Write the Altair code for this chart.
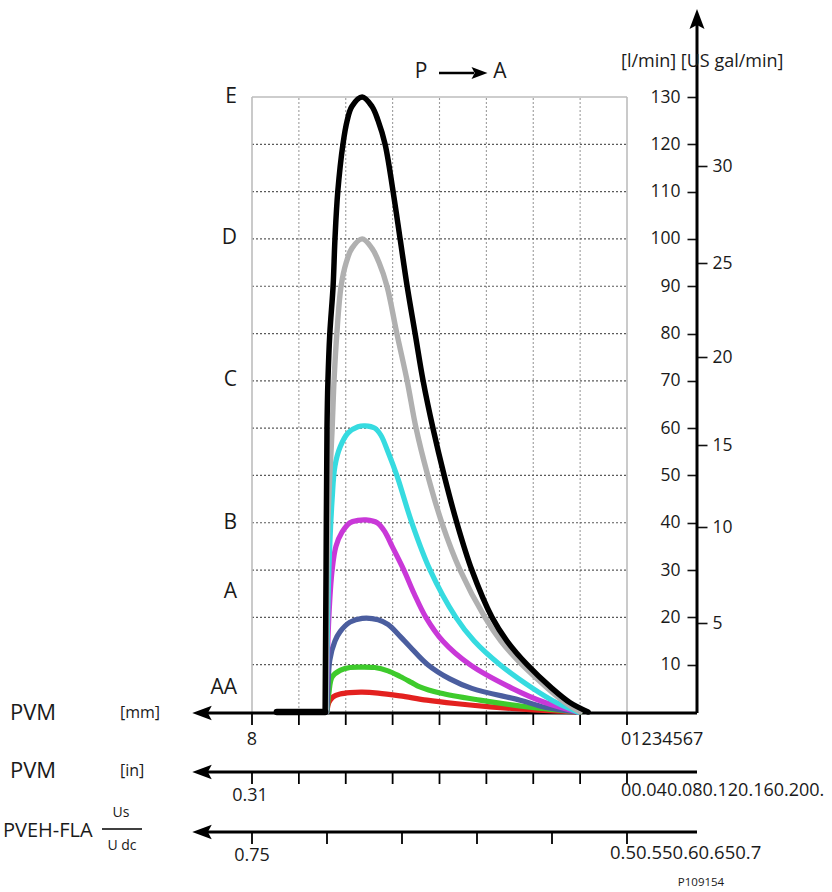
import altair as alt
import pandas as pd

FONT = "Open Sans"
INK = "#1a1a1a"

# ---------------- flow curves: spool travel [mm] -> flow [l/min] ----------------
e_mm = [6.44, 6.42, 6.40, 6.38, 6.34, 6.27, 6.23, 6.17, 6.06, 5.97, 5.87, 5.65, 5.44, 5.31,
        5.16, 4.99, 4.84, 4.69, 4.52, 4.35, 4.14, 3.90, 3.63, 3.31, 2.88, 2.56, 2.13, 1.60,
        1.22, 0.83]
e_flow = [0, 30, 60, 70, 80, 90, 100, 110, 120, 125, 128, 130, 128, 125,
          120, 110, 100, 90, 80, 70, 60, 50, 40, 30, 20, 15, 10, 5,
          2, 0]
e_dead_mm = [7.47, 6.44]
e_dead_flow = [0, 0]

d_mm = [6.42, 6.38, 6.29, 6.25, 6.19, 6.10, 5.99, 5.87, 5.65, 5.44, 5.29, 5.12, 4.91,
        4.69, 4.50, 4.25, 3.95, 3.56, 3.03, 2.69, 2.24, 1.69, 1.32, 1.00]
d_flow = [0, 40, 60, 70, 80, 90, 95, 98, 100, 98, 95, 90, 80,
          70, 60, 50, 40, 30, 20, 15, 10, 5, 2, 0]

c_mm = [6.42, 6.36, 6.29, 6.23, 6.12, 5.95, 5.74, 5.59, 5.38, 5.25, 5.10, 4.91, 4.59,
        4.20, 3.65, 3.26, 2.71, 2.01, 1.51, 1.05]
c_flow = [0, 30, 45, 52, 56, 59, 60.3, 60.5, 60, 58.5, 55, 50, 40,
          30, 20, 15, 10, 5, 2, 0]

b_mm = [6.42, 6.36, 6.29, 6.21, 6.08, 5.91, 5.74, 5.57, 5.33, 5.16, 5.01, 4.76, 4.54,
        4.29, 3.93, 3.35, 2.45, 1.75, 1.05]
b_flow = [0, 20, 30, 35, 38, 40, 40.5, 40.6, 40, 38, 35, 30, 25,
          20, 15, 10, 5, 2, 0]

a_mm = [6.40, 6.38, 6.34, 6.23, 6.12, 5.91, 5.65, 5.31, 5.10, 4.84, 4.63, 4.25, 3.78,
        3.31, 2.28, 1.75, 1.05]
a_flow = [0, 5, 11, 15, 17, 19, 19.8, 19.5, 18.5, 16, 13.8, 10, 7,
          5, 2.5, 1, 0]

aa_mm = [6.40, 6.36, 6.29, 6.12, 5.91, 5.70, 5.38, 5.10, 4.84, 4.59, 4.42, 3.99, 3.14,
         2.07, 1.00]
aa_flow = [0, 4, 7.4, 8.8, 9.4, 9.5, 9.4, 8.7, 7.5, 6.2, 5.3, 4, 2.5,
           1, 0]

low_mm = [6.40, 6.36, 6.27, 6.12, 5.91, 5.65, 5.31, 4.84, 4.27, 3.67, 2.92, 2.07, 1.43, 1.05]
low_flow = [0, 2, 3.2, 3.8, 4.1, 4.2, 4.0, 3.4, 2.5, 1.8, 1.1, 0.5, 0.2, 0]

# ---------------- scales, ticks and labels ----------------
grid_mm = [1, 2, 3, 4, 5, 6, 7]
grid_flow = [10, 20, 30, 40, 50, 60, 70, 80, 90, 100, 110, 120]
lpm_ticks = [10, 20, 30, 40, 50, 60, 70, 80, 90, 100, 110, 120, 130]
gal_ticks_lpm = [18.8, 39.1, 56.4, 75.0, 94.9, 115.4]   # 5 ... 30 US gal/min
stroke_ticks_mm = [0, 1, 2, 3, 4, 5, 6, 7, 8]
ratio_ticks = [0.75, 0.70, 0.65, 0.60, 0.55, 0.50]

mm_labels = ["0", "1", "2", "3", "4", "5", "6", "7"]
in_labels = ["0", "0.04", "0.08", "0.12", "0.16", "0.20", "0."]
ratio_labels = ["0.5", "0.55", "0.6", "0.65", "0.7"]
curve_labels = ["E", "D", "C", "B", "A", "AA"]

X0, Y0 = 252, 97          # top-left corner of the grid on the page
W, H = 375, 615           # grid size in pixels

xscale = alt.Scale(domain=[0, 8], reverse=True, nice=False, zero=False)
yscale = alt.Scale(domain=[0, 130], nice=False, zero=False)


def X(field):
    return alt.X(field, type="quantitative", scale=xscale, axis=None)


def Y(field, axis=None):
    return alt.Y(field, type="quantitative", scale=yscale, axis=axis)


def px(x):
    return x - X0


def py(y):
    return y - Y0


def one():
    return pd.DataFrame({"k": [0]})


def text(s, x, y, size, align="center", color=INK):
    return alt.Chart(pd.DataFrame({"s": [s]})).mark_text(
        align=align, baseline="middle", fontSize=size, color=color, font=FONT
    ).encode(x=alt.value(px(x)), y=alt.value(py(y)), text="s:N")


def prule(x1, y1, x2, y2, width=3.0, color="black"):
    return alt.Chart(one()).mark_rule(strokeWidth=width, color=color).encode(
        x=alt.value(px(x1)), x2=alt.value(px(x2)),
        y=alt.value(py(y1)), y2=alt.value(py(y2)))


def head(shape, x, y, size):
    return alt.Chart(one()).mark_point(
        shape=shape, filled=True, size=size, color="black", opacity=1, strokeWidth=0
    ).encode(x=alt.value(px(x)), y=alt.value(py(y)))


LEFT_HEAD = "M-1,0L1,-0.75L0.6,0L1,0.75Z"
UP_HEAD = "M0,-1L0.75,1L0,0.6L-0.75,1Z"
RIGHT_HEAD = "M1,0L-1,-0.75L-0.6,0L-1,0.75Z"

layers = []

# ---- grid ----
layers.append(
    alt.Chart(pd.DataFrame({"mm": grid_mm, "lo": 0, "hi": 130}))
    .mark_rule(color="#9c9c9c", strokeDash=[2, 2], strokeWidth=1.1)
    .encode(x=X("mm"), y=Y("lo"), y2="hi")
)
lpm_axis = alt.Axis(
    orient="left", offset=-(W + 70), values=lpm_ticks, title=None, domain=False,
    grid=False, tickSize=10, tickWidth=1.6, tickColor="#111", labelPadding=7,
    labelFont=FONT, labelFontSize=17.5, labelColor=INK,
)
layers.append(
    alt.Chart(pd.DataFrame({"flow": grid_flow, "x0": 8, "x1": 0}))
    .mark_rule(color="#5a5a5a", strokeDash=[2, 2], strokeWidth=1.2)
    .encode(x=X("x0"), x2="x1", y=Y("flow", lpm_axis))
)
# light frame on the left, right and top
layers.append(
    alt.Chart(pd.DataFrame({"mm": [8, 0], "lo": 0, "hi": 130}))
    .mark_rule(color="#bdbdbd", strokeWidth=1.6)
    .encode(x=X("mm"), y=Y("lo"), y2="hi")
)
layers.append(
    alt.Chart(pd.DataFrame({"flow": [130], "x0": 8, "x1": 0}))
    .mark_rule(color="#bdbdbd", strokeWidth=1.6)
    .encode(x=X("x0"), x2="x1", y=Y("flow"))
)

# secondary US gal/min scale on the right side of the flow axis
gal_axis = alt.Axis(
    orient="right", offset=70, values=gal_ticks_lpm, title=None, domain=False,
    grid=False, tickSize=10, tickWidth=1.6, tickColor="#111", labelPadding=5,
    labelFont=FONT, labelFontSize=17.5, labelColor=INK,
    labelExpr="format(round(datum.value / 3.785), 'd')",
)
layers.append(
    alt.Chart(pd.DataFrame({"flow": gal_ticks_lpm}))
    .mark_point(opacity=0)
    .encode(x=alt.value(0), y=Y("flow", gal_axis))
)

# ---- axes with arrows ----
layers.append(prule(697, 713, 697, 22, 3.0))
layers.append(head(UP_HEAD, 697, 19, 400))
for yy in (713, 772, 832):
    layers.append(prule(205, yy, 697, yy, 3.0))
    layers.append(head(LEFT_HEAD, 202, yy, 380))

for yy in (713, 772):
    layers.append(
        alt.Chart(pd.DataFrame({"mm": stroke_ticks_mm}))
        .mark_rule(color="black", strokeWidth=1.8)
        .encode(x=X("mm"), y=alt.value(py(yy)), y2=alt.value(py(yy + 12)))
    )
ratio_df = pd.DataFrame({"r": ratio_ticks})
ratio_df["mm"] = (ratio_df["r"] - 0.5) / 0.25 * 8
layers.append(
    alt.Chart(ratio_df)
    .mark_rule(color="black", strokeWidth=1.8)
    .encode(x=X("mm"), y=alt.value(py(832)), y2=alt.value(py(844)))
)

# ---- curves ----
def curve(mm, flow, color, width=5.2, interp="catmull-rom"):
    df = pd.DataFrame({"mm": mm, "flow": flow, "i": range(len(mm))})
    return alt.Chart(df).mark_line(
        color=color, strokeWidth=width, interpolate=interp, strokeCap="round",
        strokeJoin="round"
    ).encode(x=X("mm"), y=Y("flow"), order="i:Q")


layers += [
    curve(low_mm, low_flow, "#e3211f"),
    curve(aa_mm, aa_flow, "#3ecb2c"),
    curve(a_mm, a_flow, "#4b5e9f"),
    curve(b_mm, b_flow, "#c938d8"),
    curve(c_mm, c_flow, "#36dbe0"),
    curve(d_mm, d_flow, "#b0b0b0", 5.4),
    curve(e_dead_mm, e_dead_flow, "black", 6.5, "linear"),
    curve(e_mm, e_flow, "black", 5.5),
]

# ---- texts ----
for lab, yy in zip(curve_labels, [97, 238, 380, 523, 592, 688]):
    layers.append(text(lab, 237, yy, 21, align="right"))

layers += [
    text("P", 421, 72, 21),
    prule(439, 73, 474, 73, 2.6),
    head(RIGHT_HEAD, 479.5, 73, 256),
    text("A", 500, 72, 21),
    text("[l/min] [US gal/min]", 621, 62, 18, align="left"),

    text("PVM", 10, 713, 22, align="left"),
    text("[mm]", 120, 713, 16, align="left"),
    text("8", 252, 740, 18),
    text("".join(mm_labels), 621, 740, 18, align="left"),

    text("PVM", 10, 771, 22, align="left"),
    text("[in]", 120, 771, 16, align="left"),
    text("0.31", 250, 796, 18),
    text("".join(in_labels), 621, 791, 18, align="left"),

    text("PVEH-FLA", 3, 831, 20, align="left"),
    text("Us", 121, 813, 14),
    prule(102, 829, 142, 829, 1.3),
    text("U dc", 122, 846, 14),
    text("0.75", 252, 856, 18),
    text("".join(ratio_labels), 610, 853, 18.5, align="left"),
    text("P109154", 701, 883, 11.5),
]

chart = (
    alt.layer(*layers)
    .resolve_axis(y="independent")
    .properties(
        width=W,
        height=H,
        padding={"left": X0, "top": Y0, "right": 832 - X0 - W, "bottom": 892 - Y0 - H},
        autosize=alt.AutoSizeParams(type="none"),
        background="white",
    )
    .configure(font=FONT)
    .configure_view(stroke=None)
)

chart.save("out.html", embed_options={"renderer": "svg", "actions": False})
